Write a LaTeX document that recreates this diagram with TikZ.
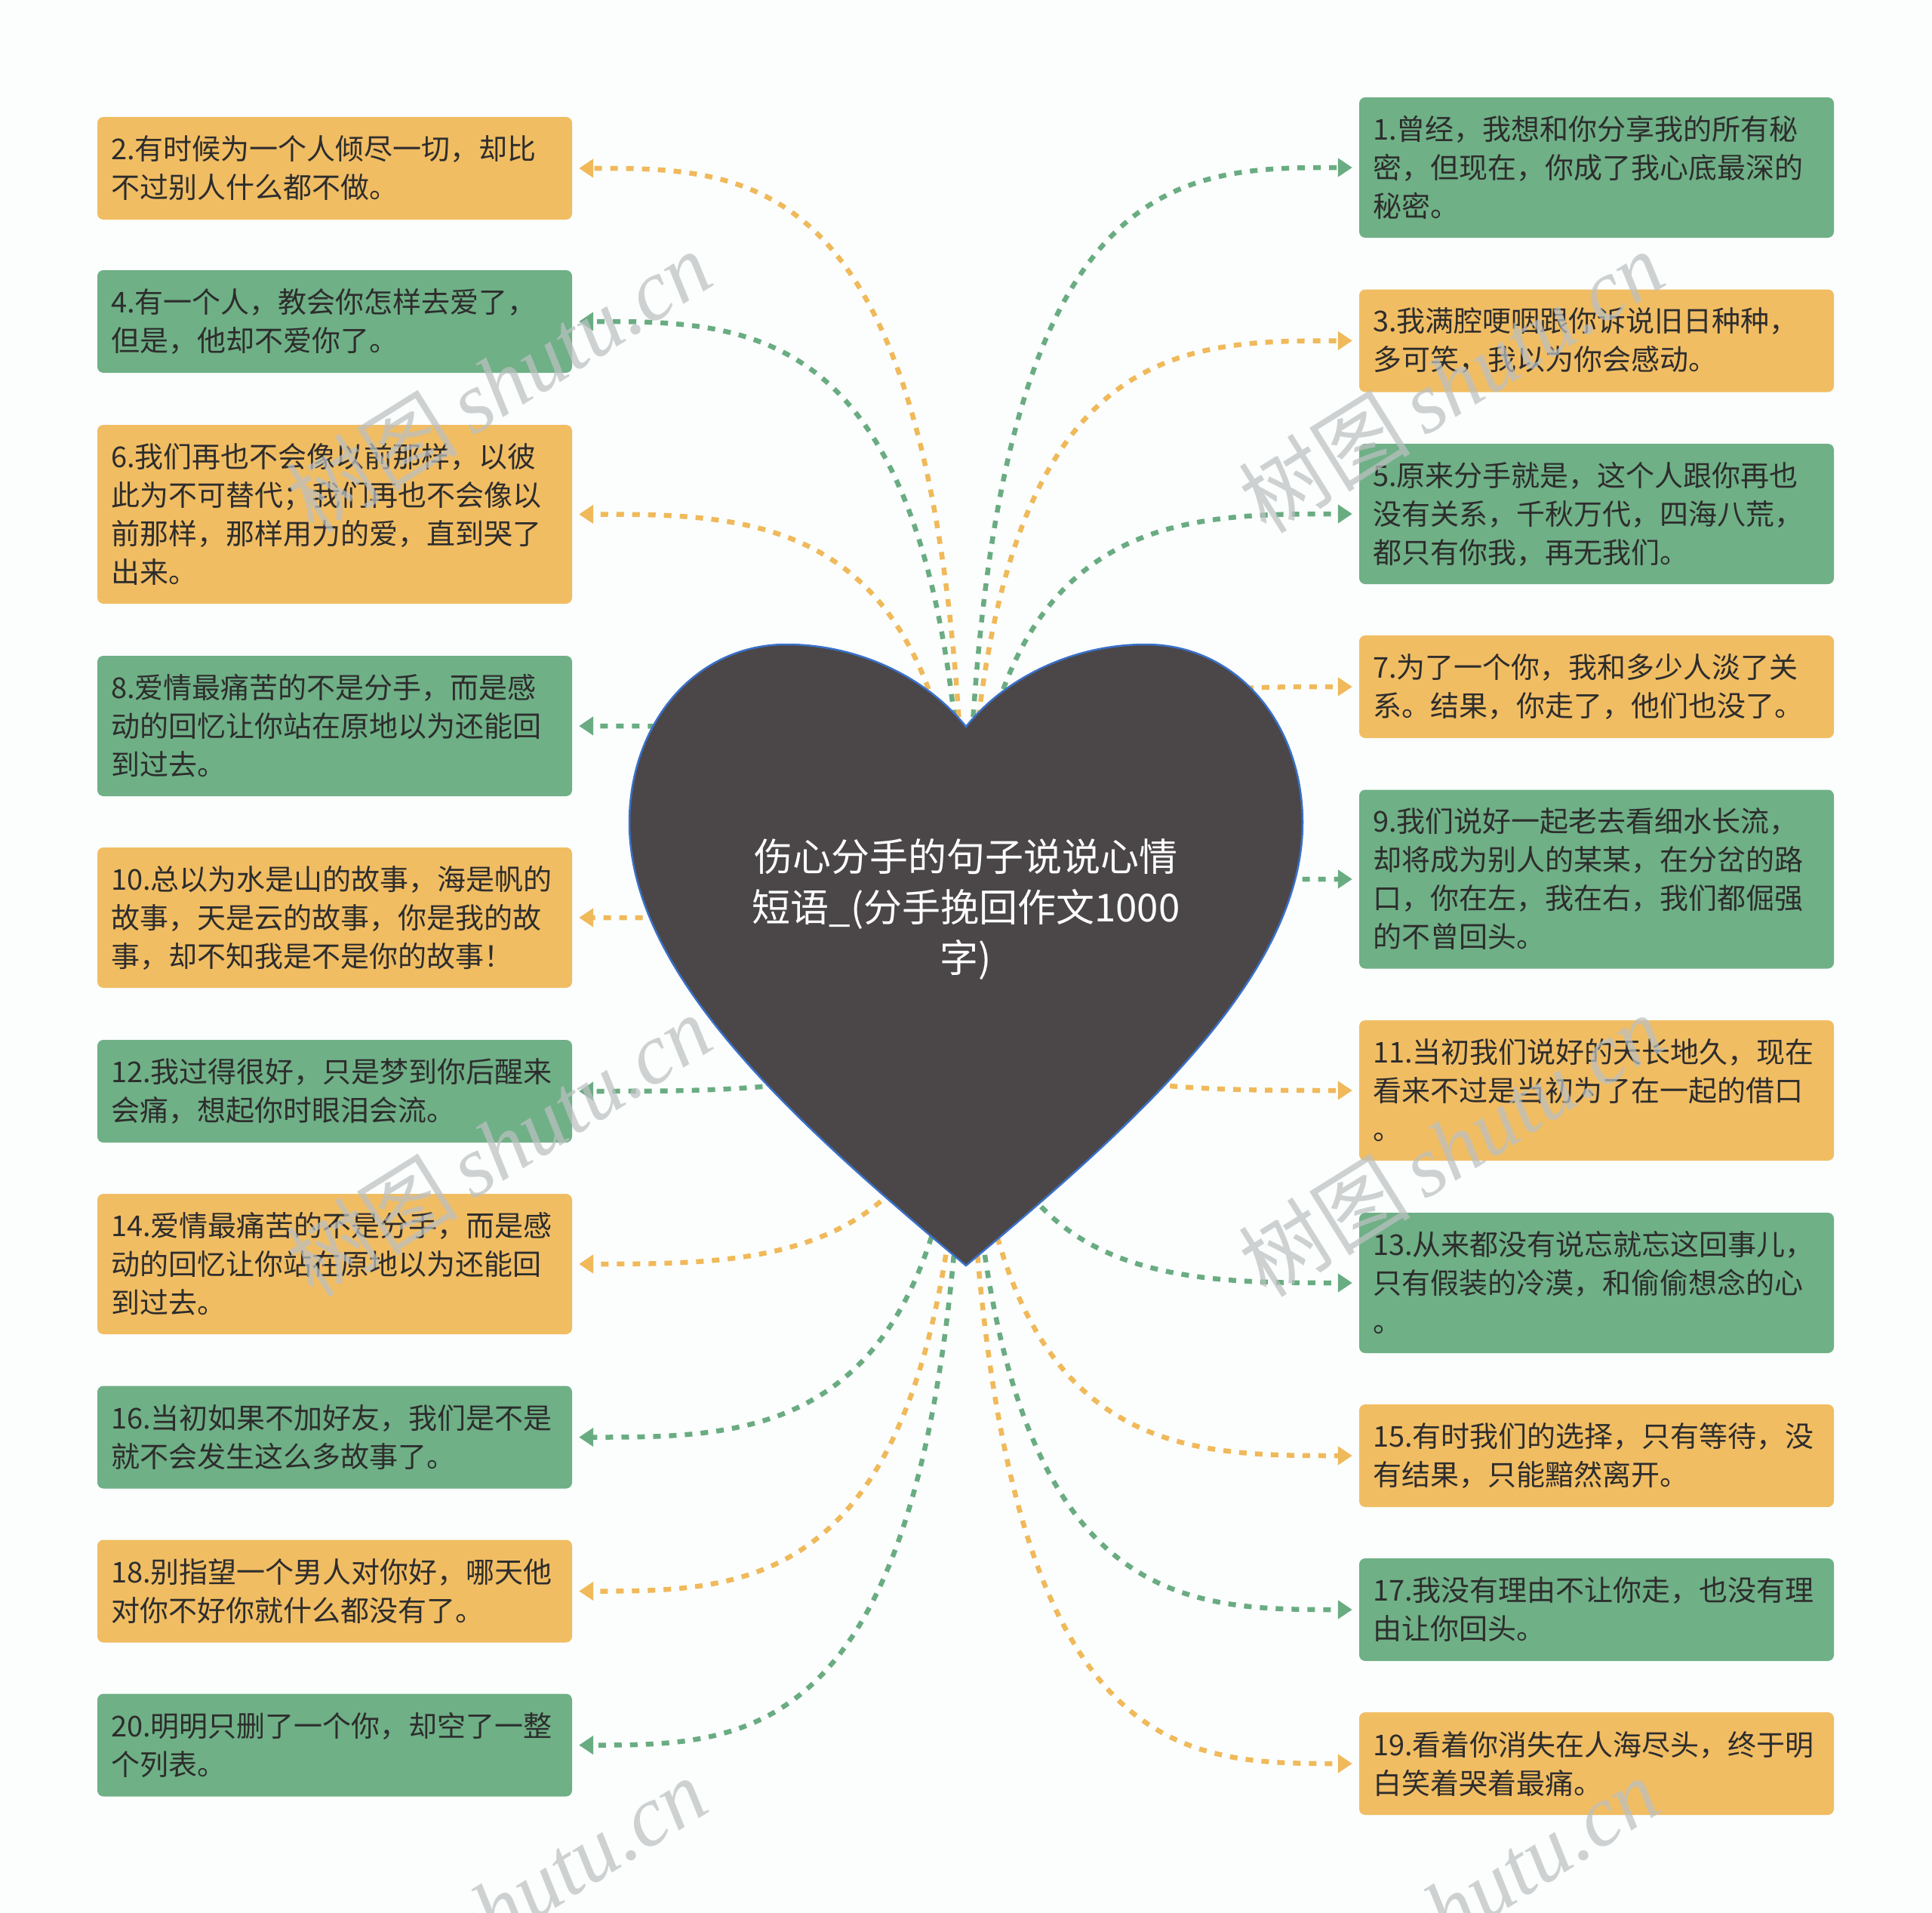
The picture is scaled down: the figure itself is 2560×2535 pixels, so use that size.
\documentclass[tikz,border=0pt]{standalone}
\usepackage{fontspec}
\setmainfont{Noto Sans CJK SC}
\newfontfamily\wmserif{Liberation Serif}
\usetikzlibrary{arrows.meta,calc}
\definecolor{bg}{RGB}{251,254,253}
\definecolor{org}{RGB}{241,189,99}
\definecolor{grn}{RGB}{111,176,134}
\definecolor{orgline}{RGB}{240,185,90}
\definecolor{grnline}{RGB}{106,172,130}
\definecolor{heartfill}{RGB}{75,71,72}
\definecolor{heartedge}{RGB}{58,112,200}
\definecolor{txt}{RGB}{45,45,45}
\definecolor{wmgray}{RGB}{188,193,193}
\begin{document}
\begin{tikzpicture}[x=1pt,y=-1pt,
  box/.style={rounded corners=8pt, text width=593pt, inner xsep=18pt, inner ysep=0pt,
    align=left, font=\fontsize{38}{51}\selectfont, text=txt, anchor=center},
  two/.style={minimum height=136pt},
  three/.style={minimum height=186pt},
  four/.style={minimum height=237pt},
  ob/.style={box, fill=org},
  gb/.style={box, fill=grn},
  conn/.style={line width=6.5pt, dash pattern=on 10pt off 11pt,
    -{Triangle[length=19pt,width=24pt]}, shorten >=9pt},
  wm/.style={text=wmgray, opacity=0.72, rotate=32, font=\fontsize{114}{114}\selectfont, inner sep=0pt},
  title/.style={text=white, align=center, font=\fontsize{51}{67}\selectfont}
]
\fill[bg] (0,0) rectangle (2560,2535);
\useasboundingbox (0,0) rectangle (2560,2535);

% left column
\node[ob,two]   (L2)  at (443.5,223)   {2.有时候为一个人倾尽一切，却比\\不过别人什么都不做。};
\node[gb,two]   (L4)  at (443.5,426)   {4.有一个人，教会你怎样去爱了，\\但是，他却不爱你了。};
\node[ob,four]  (L6)  at (443.5,681.5) {6.我们再也不会像以前那样，以彼\\此为不可替代；我们再也不会像以\\前那样，那样用力的爱，直到哭了\\出来。};
\node[gb,three] (L8)  at (443.5,962)   {8.爱情最痛苦的不是分手，而是感\\动的回忆让你站在原地以为还能回\\到过去。};
\node[ob,three] (L10) at (443.5,1216)  {10.总以为水是山的故事，海是帆的\\故事，天是云的故事，你是我的故\\事，却不知我是不是你的故事！};
\node[gb,two]   (L12) at (443.5,1446)  {12.我过得很好，只是梦到你后醒来\\会痛，想起你时眼泪会流。};
\node[ob,three] (L14) at (443.5,1675)  {14.爱情最痛苦的不是分手，而是感\\动的回忆让你站在原地以为还能回\\到过去。};
\node[gb,two]   (L16) at (443.5,1904.5){16.当初如果不加好友，我们是不是\\就不会发生这么多故事了。};
\node[ob,two]   (L18) at (443.5,2108.5){18.别指望一个男人对你好，哪天他\\对你不好你就什么都没有了。};
\node[gb,two]   (L20) at (443.5,2312.5){20.明明只删了一个你，却空了一整\\个列表。};

% right column
\node[gb,three] (R1)  at (2115.5,222)   {1.曾经，我想和你分享我的所有秘\\密，但现在，你成了我心底最深的\\秘密。};
\node[ob,two]   (R3)  at (2115.5,451.5) {3.我满腔哽咽跟你诉说旧日种种，\\多可笑，我以为你会感动。};
\node[gb,three] (R5)  at (2115.5,681)   {5.原来分手就是，这个人跟你再也\\没有关系，千秋万代，四海八荒，\\都只有你我，再无我们。};
\node[ob,two]   (R7)  at (2115.5,910)   {7.为了一个你，我和多少人淡了关\\系。结果，你走了，他们也没了。};
\node[gb,four]  (R9)  at (2115.5,1165)  {9.我们说好一起老去看细水长流，\\却将成为别人的某某，在分岔的路\\口，你在左，我在右，我们都倔强\\的不曾回头。};
\node[ob,three] (R11) at (2115.5,1445)  {11.当初我们说好的天长地久，现在\\看来不过是当初为了在一起的借口\\。};
\node[gb,three] (R13) at (2115.5,1700)  {13.从来都没有说忘就忘这回事儿，\\只有假装的冷漠，和偷偷想念的心\\。};
\node[ob,two]   (R15) at (2115.5,1929)  {15.有时我们的选择，只有等待，没\\有结果，只能黯然离开。};
\node[gb,two]   (R17) at (2115.5,2133)  {17.我没有理由不让你走，也没有理\\由让你回头。};
\node[ob,two]   (R19) at (2115.5,2337)  {19.看着你消失在人海尽头，终于明\\白笑着哭着最痛。};

\coordinate (hc) at (1280,1265);

% connectors
\foreach \n/\c in {L2/orgline,L4/grnline,L6/orgline,L8/grnline,L10/orgline,L12/grnline,L14/orgline,L16/grnline,L18/orgline,L20/grnline}
  \draw[conn,\c] (hc) .. controls (hc |- \n.east) and ($(hc |- \n.east)!0.5!(\n.east)$) .. (\n.east);
\foreach \n/\c in {R1/grnline,R3/orgline,R5/grnline,R7/orgline,R9/grnline,R11/orgline,R13/grnline,R15/orgline,R17/grnline,R19/orgline}
  \draw[conn,\c] (hc) .. controls (hc |- \n.west) and ($(hc |- \n.west)!0.5!(\n.west)$) .. (\n.west);

% heart
\draw[fill=heartfill, draw=heartedge, line width=2.5pt, line join=miter]
  (1280,963) .. controls (1330,900) and (1420,854) .. (1518,854)
  .. controls (1640,854) and (1726,960) .. (1726,1090)
  .. controls (1726,1290) and (1510,1485) .. (1280,1677)
  .. controls (1050,1485) and (834,1290) .. (834,1090)
  .. controls (834,960) and (920,854) .. (1042,854)
  .. controls (1140,854) and (1230,900) .. (1280,963) -- cycle;
\node[title] (root) at (1280,1205) {伤心分手的句子说说心情\\短语\_(分手挽回作文1000\\字)};

% watermarks
\node[wm] (w1) at (661,506)   {树图\,{\wmserif\itshape shutu.cn}};
\node[wm] (w2) at (1923,506)  {树图\,{\wmserif\itshape shutu.cn}};
\node[wm] (w3) at (661,1518)  {树图\,{\wmserif\itshape shutu.cn}};
\node[wm] (w4) at (1923,1518) {树图\,{\wmserif\itshape shutu.cn}};
\node[wm] (w5) at (655,2528)  {树图\,{\wmserif\itshape shutu.cn}};
\node[wm] (w6) at (1917,2528) {树图\,{\wmserif\itshape shutu.cn}};
\end{tikzpicture}
\end{document}
